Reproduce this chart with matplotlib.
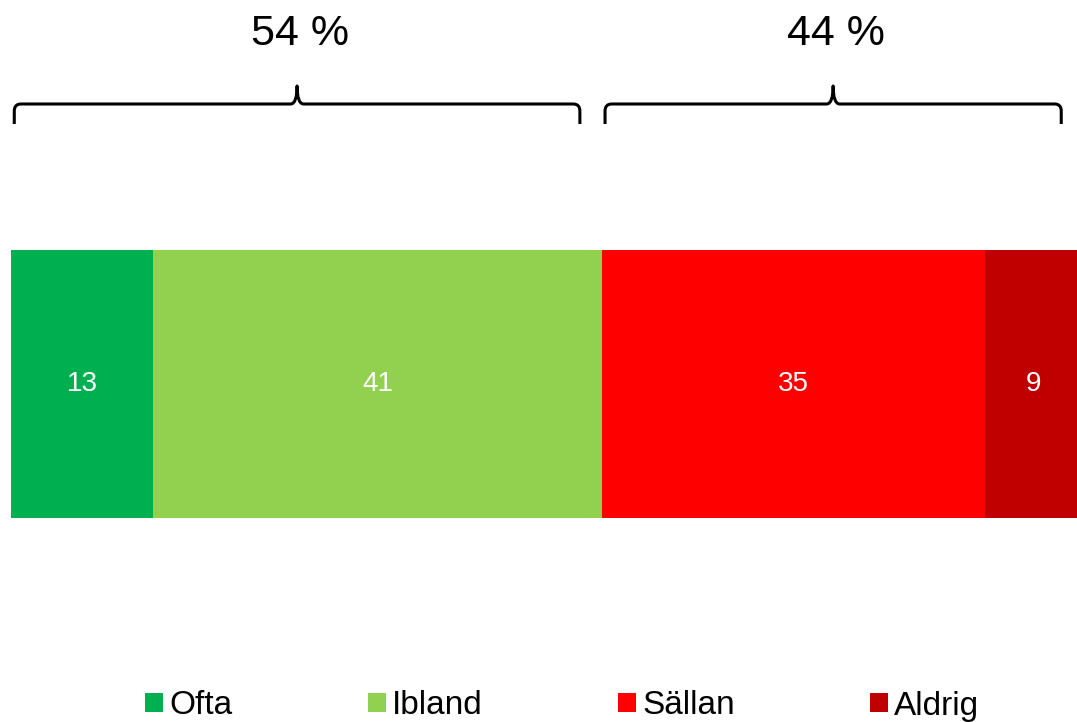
import numpy as np
import matplotlib
matplotlib.use("Agg")
import matplotlib.pyplot as plt
from matplotlib.path import Path
from matplotlib.patches import PathPatch

plt.rcParams["font.family"] = ["Liberation Sans", "DejaVu Sans"]

# data
categories = ["Ofta", "Ibland", "Sällan", "Aldrig"]
values = [13, 41, 35, 9]
colors = ["#00B050", "#92D050", "#FF0000", "#C00000"]
groups = [(0, 2), (2, 4)]          # index ranges for the brackets
group_labels = ["54 %", "44 %"]

fig = plt.figure(figsize=(10.77, 7.22), dpi=100, facecolor="white")
ax = fig.add_axes([0, 0, 1, 1])

left = np.concatenate(([0], np.cumsum(values)[:-1]))
bars = []
for i in range(len(values)):
    b = ax.barh(0, values[i], left=left[i], height=1.0, color=colors[i],
                label=categories[i])
    bars.append(b)
    ax.text(left[i] + values[i] / 2, 0, str(values[i]), ha="center",
            va="center", color="white", fontsize=20)

# brackets
px = 1 / 268.0  # one pixel in y units
yh = 280 * px
yb = 260 * px
yt = 298 * px
for (a, b), lab in zip(groups, group_labels):
    x0 = left[a] + 0.3
    x1 = left[b - 1] + values[b - 1] - 2.0
    xm = (x0 + x1) / 2
    r = 0.6
    verts = [(x0, yb), (x0, yh - 7 * px), (x0, yh), (x0 + r, yh),
             (xm - r, yh), (xm, yh), (xm, yt), (xm, yh), (xm + r, yh),
             (x1 - r, yh), (x1, yh), (x1, yh - 7 * px), (x1, yb)]
    codes = [Path.MOVETO, Path.LINETO, Path.CURVE3, Path.CURVE3,
             Path.LINETO, Path.CURVE3, Path.CURVE3, Path.CURVE3, Path.CURVE3,
             Path.LINETO, Path.CURVE3, Path.CURVE3, Path.LINETO]
    ax.add_patch(PathPatch(Path(verts, codes), fill=False, lw=2.2,
                           color="black", capstyle="butt", joinstyle="round"))
    ax.text(xm + 0.3, 350 * px, lab, ha="center", va="center", fontsize=31)

ax.set_xlim(-11 / 10.94, 1066 / 10.94)
ax.set_ylim(-338 * px, 384 * px)
ax.axis("off")

fig.legend(handles=[b[0] for b in bars], labels=categories, loc="center",
           bbox_to_anchor=(0.522, 1 - 706 / 722), ncol=4, frameon=False,
           fontsize=24, handlelength=0.54, handleheight=0.48,
           handletextpad=0.18, columnspacing=4.07)

fig.savefig("out.png", dpi=100, facecolor="white")
